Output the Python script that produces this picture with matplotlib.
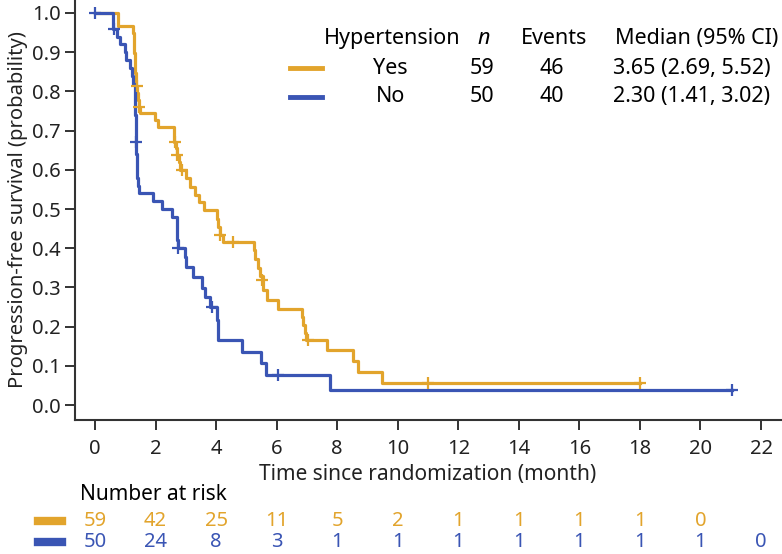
import matplotlib
matplotlib.use("Agg")
import matplotlib.pyplot as plt
from matplotlib.lines import Line2D
from matplotlib.transforms import blended_transform_factory

plt.rcParams['font.family'] = ['Noto Sans', 'DejaVu Sans']

YELLOW = '#E2A42C'
BLUE = '#3A55B4'

# Kaplan-Meier steps (month, survival after step)
yes_time = [0, 0.75, 0.77, 1.27, 1.28, 1.29, 1.30, 1.31, 1.32, 1.33, 1.34, 1.36, 1.40, 1.42, 1.45,
            1.48, 1.98, 2.08, 2.60, 2.62, 2.68, 2.70, 2.78, 2.82, 3.00, 3.15, 3.30, 3.45, 3.60,
            4.02, 4.08, 4.12, 4.22, 5.25, 5.30, 5.40, 5.45, 5.55, 5.68, 6.06, 6.83, 6.88, 6.93,
            6.97, 7.65, 8.53, 8.70, 9.47, 18.0]
yes_surv = [1.0, 0.983, 0.966, 0.949, 0.932, 0.915, 0.898, 0.881, 0.864, 0.847, 0.830, 0.813, 0.796,
            0.778, 0.760, 0.745, 0.727, 0.710, 0.690, 0.672, 0.655, 0.638, 0.620, 0.600, 0.578,
            0.557, 0.537, 0.517, 0.497, 0.475, 0.455, 0.435, 0.417, 0.395, 0.372, 0.350, 0.330,
            0.293, 0.268, 0.244, 0.224, 0.204, 0.185, 0.166, 0.140, 0.112, 0.084, 0.056, 0.056]
yes_cens_t = [1.38, 1.47, 2.64, 2.72, 2.86, 4.14, 4.56, 5.52, 7.04, 11.0, 18.0]
yes_cens_s = [0.813, 0.760, 0.672, 0.638, 0.600, 0.435, 0.417, 0.320, 0.166, 0.056, 0.056]

no_time = [0, 0.60, 0.72, 0.83, 0.99, 1.04, 1.16, 1.21, 1.27, 1.32, 1.325, 1.33, 1.335, 1.34, 1.345,
           1.35, 1.36, 1.37, 1.38, 1.39, 1.40, 1.41, 1.47, 1.92, 2.20, 2.53, 2.70, 2.71, 2.72, 2.73,
           2.97, 3.00, 3.25, 3.52, 3.65, 3.80, 4.02, 4.05, 4.07, 4.85, 5.50, 5.65, 7.76, 21.05]
no_surv = [1.0, 0.96, 0.94, 0.92, 0.90, 0.88, 0.86, 0.84, 0.82, 0.80, 0.78, 0.76, 0.74, 0.72, 0.70,
           0.68, 0.66, 0.64, 0.62, 0.60, 0.58, 0.56, 0.54, 0.52, 0.50, 0.48, 0.46, 0.44, 0.42, 0.40,
           0.377, 0.353, 0.327, 0.298, 0.276, 0.250, 0.217, 0.190, 0.166, 0.136, 0.107, 0.078,
           0.039, 0.039]
no_cens_t = [0.0, 0.63, 1.35, 2.75, 3.85, 6.06, 21.05]
no_cens_s = [1.0, 0.96, 0.672, 0.40, 0.25, 0.078, 0.039]

risk_times = [0, 2, 4, 6, 8, 10, 12, 14, 16, 18, 20, 22]
yes_risk = [59, 42, 25, 11, 5, 2, 1, 1, 1, 1, 0]
no_risk = [50, 24, 8, 3, 1, 1, 1, 1, 1, 1, 1, 0]

groups = ['Yes', 'No']
n_pat = [59, 50]
n_events = [46, 40]
medians = ['3.65 (2.69, 5.52)', '2.30 (1.41, 3.02)']

fig = plt.figure(figsize=(7.82, 5.54), dpi=100)
ax = fig.add_axes([0.0959, 0.2419, 0.9028, 0.758])

ax.step(yes_time, yes_surv, where='post', color=YELLOW, lw=2.3)
ax.step(no_time, no_surv, where='post', color=BLUE, lw=2.3)
ax.plot(yes_cens_t, yes_cens_s, ls='none', marker='+', ms=9, mew=1.6, color=YELLOW)
ax.plot(no_cens_t, no_cens_s, ls='none', marker='+', ms=9, mew=1.6, color=BLUE)

ax.set_xlim(-0.66, 22.66)
ax.set_ylim(-0.038, 1.033)
ax.set_xticks(range(0, 23, 2))
ax.set_yticks([i / 10 for i in range(11)])
ax.set_yticklabels(['%.1f' % (i / 10) for i in range(11)])
for s in ['top', 'right']:
    ax.spines[s].set_visible(False)
for s in ['left', 'bottom']:
    ax.spines[s].set_linewidth(1.5)
    ax.spines[s].set_color('#333333')
ax.tick_params(axis='both', direction='out', length=7, width=1.4, color='#333333',
               labelsize=14.5, labelcolor='#222222')
ax.tick_params(axis='x', pad=7)
ax.tick_params(axis='y', pad=3)
ax.set_xlabel('Time since randomization (month)', fontsize=15, color='#222222', labelpad=3)
ax.set_ylabel('Progression-free survival (probability)', fontsize=14.5, color='#222222', labelpad=3)

# legend table
fs = 15.5
hy = 0.931
rows_y = [0.877, 0.825]
colors = [YELLOW, BLUE]
fig.text(0.501, hy, 'Hypertension', ha='center', va='center', fontsize=fs)
fig.text(0.618, hy, 'n', ha='center', va='center', fontsize=fs, style='italic')
fig.text(0.709, hy, 'Events', ha='center', va='center', fontsize=fs)
fig.text(0.786, hy, 'Median (95% CI)', ha='left', va='center', fontsize=fs)
for g, n, e, m, y, c in zip(groups, n_pat, n_events, medians, rows_y, colors):
    fig.add_artist(Line2D([0.371, 0.412], [y, y], color=c, lw=3.5, transform=fig.transFigure))
    fig.text(0.499, y, g, ha='center', va='center', fontsize=fs)
    fig.text(0.616, y, str(n), ha='center', va='center', fontsize=fs)
    fig.text(0.706, y, str(e), ha='center', va='center', fontsize=fs)
    fig.text(0.784, y, m, ha='left', va='center', fontsize=fs)

# number at risk
fig.text(0.102, 0.108, 'Number at risk', ha='left', va='center', fontsize=15)
tr = blended_transform_factory(ax.transData, fig.transFigure)
for risk, y, c in zip([yes_risk, no_risk], [0.060, 0.022], colors):
    fig.add_artist(Line2D([0.049, 0.079], [y, y], color=c, lw=6, transform=fig.transFigure))
    for t, r in zip(risk_times, risk):
        ax.text(t, y, str(r), transform=tr, ha='center', va='center', fontsize=14.5, color=c)

fig.savefig('out.png', dpi=100)
